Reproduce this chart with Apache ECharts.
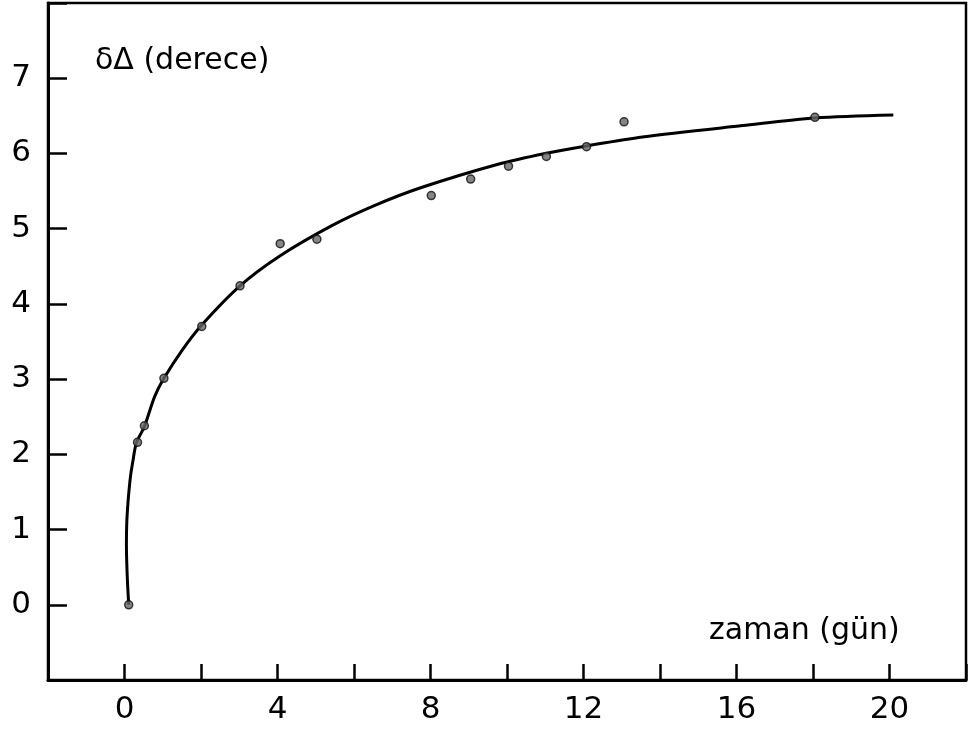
<!DOCTYPE html>
<html>
<head>
<meta charset="utf-8">
<script src="https://cdn.jsdelivr.net/npm/echarts@6/dist/echarts.min.js"></script>
<style>html,body{margin:0;padding:0;background:#fff}#c{width:970px;height:731px}</style>
</head>
<body>
<div id="c"></div>
<script>
// Measured points: time (days), value (degrees)
const pointX = [0.11, 0.34, 0.52, 1.03, 2.02, 3.02, 4.07, 5.03, 8.02, 9.05, 10.04, 11.03, 12.08, 13.06, 18.05];
const pointY = [0.0, 2.16, 2.38, 3.01, 3.70, 4.24, 4.80, 4.86, 5.44, 5.66, 5.83, 5.96, 6.09, 6.42, 6.48];
// Fitted curve
const curveX = [0.11, 0.07, 0.05, 0.06, 0.09, 0.12, 0.16, 0.21, 0.31, 0.52, 0.79, 1.03, 1.5, 2.02, 3.02, 4.07, 5.42, 6.5, 7.78, 9.79, 11.0, 12.08, 13.54, 16.16, 18.05, 20.1];
const curveY = [0.0, 0.4, 0.8, 1.1, 1.35, 1.53, 1.72, 1.88, 2.15, 2.37, 2.77, 3.01, 3.38, 3.72, 4.24, 4.64, 5.04, 5.3, 5.55, 5.86, 6.0, 6.1, 6.22, 6.37, 6.47, 6.51];
const xTickLabels = [0, 4, 8, 12, 16, 20];
const yTickLabels = [0, 1, 2, 3, 4, 5, 6, 7];
const yName = 'δΔ (derece)';
const xName = 'zaman (gün)';

const font = 'DejaVu Sans';
const chart = echarts.init(document.getElementById('c'), null, {renderer: 'canvas'});
chart.setOption({
  animation: false,
  backgroundColor: '#fff',
  grid: {left: 48, right: 4, top: 3, bottom: 51, show: true, borderColor: '#000', borderWidth: 2.5},
  xAxis: {
    type: 'value', min: -2, max: 22, interval: 2,
    axisLine: {show: true, onZero: false, lineStyle: {color: '#000', width: 3}},
    axisTick: {show: true, inside: true, length: 16, lineStyle: {color: '#000', width: 2.5}},
    splitLine: {show: false},
    axisLabel: {
      margin: 14, color: '#000', fontFamily: font, fontSize: 31,
      formatter: v => xTickLabels.includes(v) ? String(v) : ''
    }
  },
  yAxis: {
    type: 'value', min: -1, max: 8, interval: 1,
    axisLine: {show: true, onZero: false, lineStyle: {color: '#000', width: 3}},
    axisTick: {show: true, inside: true, length: 19, lineStyle: {color: '#000', width: 2.5}},
    splitLine: {show: false},
    axisLabel: {
      margin: 17, color: '#000', fontFamily: font, fontSize: 31,
      formatter: v => yTickLabels.includes(v) ? String(v) : ''
    }
  },
  graphic: [
    {type: 'text', left: 95, top: 46, style: {text: yName, fill: '#000', font: '30px "' + font + '"'}},
    {type: 'text', left: 709, top: 616, style: {text: xName, fill: '#000', font: '30px "' + font + '"'}}
  ],
  series: [
    {
      type: 'line', data: curveX.map((x, i) => [x, curveY[i]]),
      smooth: 0.3, showSymbol: false, symbol: 'none',
      lineStyle: {color: '#000', width: 3}, z: 2
    },
    {
      type: 'scatter', data: pointX.map((x, i) => [x, pointY[i]]),
      symbol: 'circle', symbolSize: 8,
      itemStyle: {color: '#666', borderColor: '#111', borderWidth: 1.5}, z: 3
    }
  ]
});
</script>
</body>
</html>
